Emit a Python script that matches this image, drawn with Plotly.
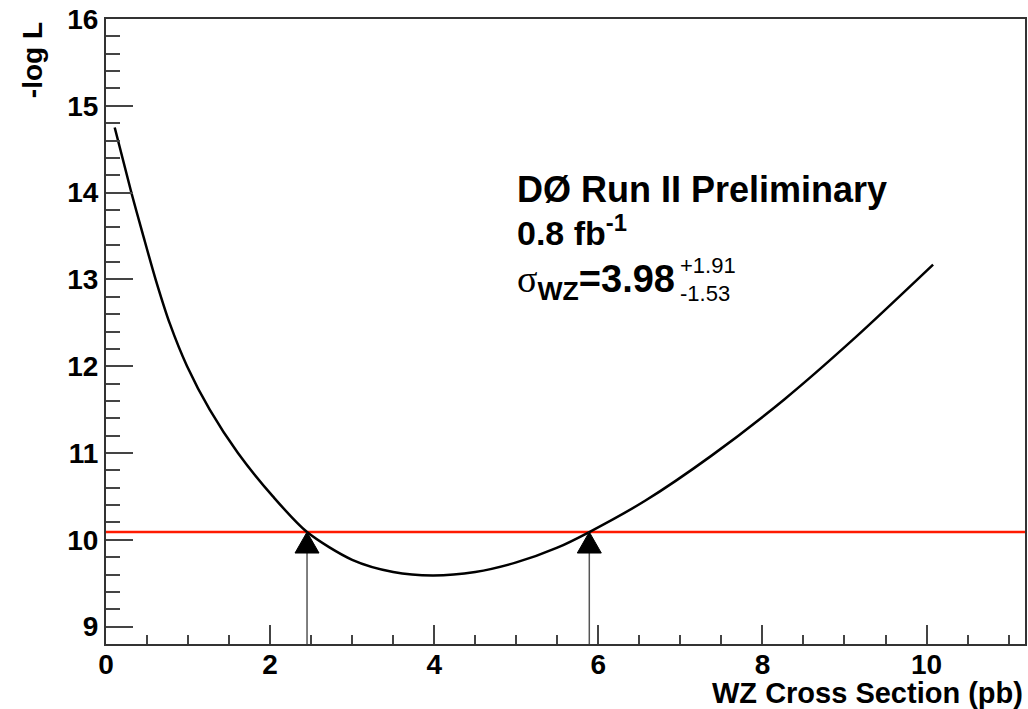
import plotly.graph_objects as go

# ---- data ----
sigma = [0.106, 0.312, 0.446, 0.608, 0.778, 0.988, 1.264, 1.608, 2.034, 2.45,
         3.0, 3.5, 3.98, 4.5, 5.0, 5.5, 5.89, 6.57, 7.38, 8.27, 9.12, 10.08]
neg_log_l = [14.75, 13.99, 13.53, 12.99, 12.49, 12.0, 11.50, 11.0, 10.50, 10.09,
             9.77, 9.63, 9.59, 9.63, 9.74, 9.91, 10.09, 10.45, 10.97, 11.62, 12.32, 13.17]

best = 3.98
err_up = 1.91
err_dn = 1.53
nll_min = 9.59
delta_nll = 0.5

x_range = [0, 11.2]
y_range = [8.8, 16]
x_ticks = [0, 2, 4, 6, 8, 10]
y_ticks = [9, 10, 11, 12, 13, 14, 15, 16]

FONT = "Liberation Sans"
level = nll_min + delta_nll
lo = best - err_dn
hi = best + err_up

fig = go.Figure()
fig.add_trace(go.Scatter(x=sigma, y=neg_log_l, mode="lines",
                         line=dict(color="black", width=2.5, shape="spline", smoothing=0.8),
                         hoverinfo="skip", showlegend=False))

shapes = []
shapes.append(dict(type="line", xref="paper", yref="y", x0=0, x1=1, y0=level, y1=level,
                   line=dict(color="#ff1a00", width=2.4), layer="below"))
for xv in (lo, hi):
    shapes.append(dict(type="line", xref="x", yref="y", x0=xv, x1=xv, y0=y_range[0], y1=level,
                       line=dict(color="#555555", width=1.5)))
    shapes.append(dict(type="path", xref="x", yref="y", xsizemode="pixel", ysizemode="pixel",
                       xanchor=xv, yanchor=level, path="M-12,-21 L0,0 L12,-21 Z",
                       fillcolor="black", line=dict(color="black", width=1)))

W, H = 1028, 709
L, R, T, B = 106, 1, 19, 65
pw, ph = W - L - R, H - T - B

def px(xp):
    return (xp - L) / pw

def py(yp):
    return (H - B - yp) / ph

ann = []
ann.append(dict(text="<b>DØ Run II Preliminary</b>", x=px(516), y=py(189), xref="paper", yref="paper",
                xanchor="left", yanchor="middle", showarrow=False,
                font=dict(family=FONT, size=36, color="black")))
ann.append(dict(text="<b>0.8 fb<sup>-1</sup></b>", x=px(516), y=py(230), xref="paper", yref="paper",
                xanchor="left", yanchor="middle", showarrow=False,
                font=dict(family=FONT, size=34, color="black")))
ann.append(dict(text="<span style='font-family:Liberation Serif;font-weight:normal'>σ</span><sub><b>WZ</b></sub><b>=3.98</b>",
                x=px(516), y=py(282), xref="paper", yref="paper",
                xanchor="left", yanchor="middle", showarrow=False,
                font=dict(family=FONT, size=38, color="black")))
ann.append(dict(text="+1.91", x=px(679), y=py(265), xref="paper", yref="paper",
                xanchor="left", yanchor="middle", showarrow=False,
                font=dict(family=FONT, size=22, color="black")))
ann.append(dict(text="-1.53", x=px(679), y=py(293), xref="paper", yref="paper",
                xanchor="left", yanchor="middle", showarrow=False,
                font=dict(family=FONT, size=22, color="black")))
# axis titles
ann.append(dict(text="<b>-log L</b>", x=px(33), y=py(60), xref="paper", yref="paper",
                xanchor="center", yanchor="middle", textangle=-90, showarrow=False,
                font=dict(family=FONT, size=28, color="black")))
ann.append(dict(text="<b>WZ Cross Section (pb)</b>", x=px(1027), y=py(693), xref="paper", yref="paper",
                xanchor="right", yanchor="middle", showarrow=False,
                font=dict(family=FONT, size=29, color="black")))

fig.update_layout(
    width=W, height=H, margin=dict(l=L, r=R, t=T, b=B, pad=0),
    paper_bgcolor="white", plot_bgcolor="white",
    shapes=shapes, annotations=ann, showlegend=False,
    xaxis=dict(range=x_range, tickvals=x_ticks, ticks="inside", ticklen=19, tickwidth=1.5,
               tickcolor="#444", showgrid=False, zeroline=False, showline=True, linecolor="#333",
               linewidth=2, mirror=True, ticklabelstandoff=-6,
               tickfont=dict(family=FONT, size=28, color="black", weight="bold"),
               minor=dict(ticks="inside", ticklen=9, dtick=0.5, tickcolor="#444", tickwidth=1.5, showgrid=False)),
    yaxis=dict(range=y_range, tickvals=y_ticks, ticks="inside", ticklen=27, tickwidth=1.5,
               tickcolor="#444", showgrid=False, zeroline=False, showline=True, linecolor="#333",
               linewidth=2, mirror=True,
               tickfont=dict(family=FONT, size=28, color="black", weight="bold"),
               minor=dict(ticks="inside", ticklen=14, dtick=0.2, tickcolor="#444", tickwidth=1.5, showgrid=False)),
)

fig.write_html("out.html")
